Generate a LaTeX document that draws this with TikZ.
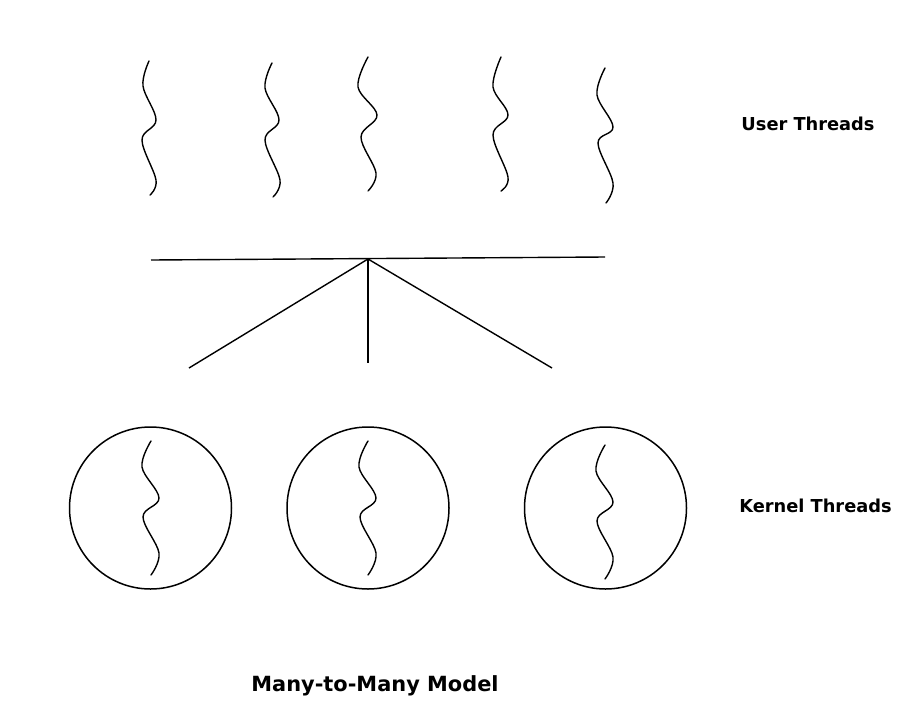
\documentclass[tikz,border=0pt]{standalone}
\usepackage{fontspec}
\setmainfont{DejaVu Sans}
\begin{document}
\begin{tikzpicture}[x=1pt,y=-1pt,
  thread/.style={line width=1.4pt, line cap=round},
  link/.style={line width=1.4pt},
  kcircle/.style={circle, draw, line width=1.5pt, minimum size=162pt, inner sep=0pt},
  lbl/.style={font=\fontsize{17.8}{20}\selectfont\bfseries, inner sep=0pt},
  ttl/.style={font=\fontsize{20.9}{24}\selectfont\bfseries, inner sep=0pt}]
\useasboundingbox (0,0) rectangle (915,726);
% user threads
\draw[thread] plot[smooth, tension=0.6] coordinates {(149,61) (143,86) (156,120) (142,140) (156,180) (150,195)};
\draw[thread] plot[smooth, tension=0.6] coordinates {(272,63) (265,88) (279,120) (265,140) (280,180) (273,197)};
\draw[thread] plot[smooth, tension=0.6] coordinates {(368,57) (358,87) (377,115) (361,137) (376,173) (368,191)};
\draw[thread] plot[smooth, tension=0.6] coordinates {(501,57) (493,87) (508,115) (493,135) (508,177) (501,191)};
\draw[thread] plot[smooth, tension=0.6] coordinates {(605,68) (597,95) (613,127) (598,143) (613,183) (606,203)};
% connector
\coordinate (hl) at (151,260);
\coordinate (hr) at (605,257);
\coordinate (apex) at (368,259);
\coordinate (l1) at (189,368);
\coordinate (l2) at (368,363);
\coordinate (l3) at (552,368);
\draw[link] (hl) -- (hr);
\draw[link] (apex) -- (l1);
\draw[link] (apex) -- (l2);
\draw[link] (apex) -- (l3);
% kernel threads
\node[kcircle] (k1) at (150.5,508) {};
\node[kcircle] (k2) at (368,508) {};
\node[kcircle] (k3) at (605.5,508) {};
\foreach \cx/\ty in {151/441, 368/441, 605/445} {
  \draw[thread, shift={(\cx,\ty)}] plot[smooth, tension=0.6] coordinates {(0,0) (-9,26) (8,57) (-8,76) (8,112) (0,134)};
}
% labels
\node[lbl] (ut) at (808,124) {User Threads};
\node[lbl] (kt) at (815.5,506) {Kernel Threads};
\node[ttl] (title) at (375,686) {Many-to-Many Model};
\end{tikzpicture}
\end{document}
